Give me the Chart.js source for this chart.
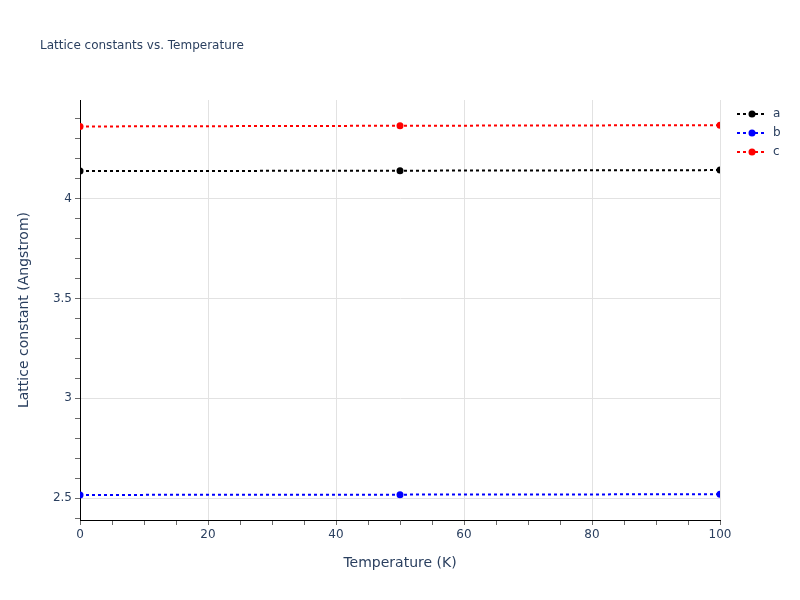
<!DOCTYPE html>
<html>
<head>
<meta charset="utf-8">
<script src="https://cdn.jsdelivr.net/npm/chart.js@4.4.1/dist/chart.umd.min.js"></script>
<style>
  html, body { margin: 0; padding: 0; background: #fff; }
  canvas { display: block; }
</style>
</head>
<body>
<canvas id="chart" width="800" height="600"></canvas>
<script>
const temperatures = [0, 50, 100];
const aValues = [4.138, 4.140, 4.143];
const bValues = [2.5165, 2.518, 2.520];
const cValues = [4.3615, 4.365, 4.368];

const seriesNames = ['a', 'b', 'c'];
const seriesColors = ['#000000', '#0000ff', '#ff0000'];

const xMajorTicks = [0, 20, 40, 60, 80, 100];
const xMinorTicks = [0, 5, 10, 15, 20, 25, 30, 35, 40, 45, 50, 55, 60, 65, 70, 75, 80, 85, 90, 95, 100];
const yMajorTicks = [2.5, 3, 3.5, 4];
const yMinorTicks = [2.4, 2.5, 2.6, 2.7, 2.8, 2.9, 3, 3.1, 3.2, 3.3, 3.4, 3.5, 3.6, 3.7, 3.8, 3.9, 4, 4.1, 4.2, 4.3, 4.4];

const chartTitle = 'Lattice constants vs. Temperature';
const xTitle = 'Temperature (K)';
const yTitle = 'Lattice constant (Angstrom)';

const fontFamily = '"DejaVu Sans", verdana, sans-serif';
const textColor = '#2a3f5f';
const gridColor = '#e2e2e2';
const tickMarkColor = '#6b6b6b';

const allValues = [aValues, bValues, cValues];

const datasets = allValues.map((vals, i) => ({
    label: seriesNames[i],
    data: temperatures.map((t, j) => ({ x: t, y: vals[j] })),
    borderColor: seriesColors[i],
    backgroundColor: seriesColors[i],
    borderWidth: 2,
    borderDash: [3, 3],
    pointRadius: 3.5,
    pointBorderWidth: 0,
    pointHoverRadius: 3.5,
    tension: 0
}));

function isIn(list, v) {
    return list.some(m => Math.abs(m - v) < 1e-9);
}

// title, axis titles and legend drawn by hand to sit where plotly puts them
const decorations = {
    id: 'decorations',
    afterDraw(chart) {
        const ctx = chart.ctx;
        const area = chart.chartArea;
        ctx.save();
        ctx.fillStyle = textColor;

        ctx.font = '12px ' + fontFamily;
        ctx.textAlign = 'left';
        ctx.textBaseline = 'middle';
        ctx.fillText(chartTitle, 40, 46);

        ctx.font = '14px ' + fontFamily;
        ctx.textAlign = 'center';
        ctx.fillText(xTitle, (area.left + area.right) / 2, 563);

        ctx.save();
        ctx.translate(24, (area.top + area.bottom) / 2);
        ctx.rotate(-Math.PI / 2);
        ctx.fillText(yTitle, 0, 0);
        ctx.restore();

        seriesNames.forEach((name, i) => {
            const y = 114 + i * 19;
            ctx.strokeStyle = seriesColors[i];
            ctx.lineWidth = 2;
            ctx.setLineDash([3, 3]);
            ctx.beginPath();
            ctx.moveTo(737, y);
            ctx.lineTo(767, y);
            ctx.stroke();
            ctx.setLineDash([]);
            ctx.fillStyle = seriesColors[i];
            ctx.beginPath();
            ctx.arc(752, y, 3.5, 0, Math.PI * 2);
            ctx.fill();
            ctx.fillStyle = textColor;
            ctx.font = '12px ' + fontFamily;
            ctx.textAlign = 'left';
            ctx.fillText(name, 773, y);
        });
        ctx.restore();
    }
};

new Chart(document.getElementById('chart').getContext('2d'), {
    type: 'line',
    data: { datasets: datasets },
    options: {
        responsive: false,
        animation: false,
        devicePixelRatio: 1,
        layout: { padding: { top: 100, right: 80, left: 0, bottom: 0 } },
        plugins: {
            legend: { display: false },
            title: { display: false },
            tooltip: { enabled: false }
        },
        scales: {
            x: {
                type: 'linear',
                min: 0,
                max: 100,
                afterFit(scale) { scale.height = 80; },
                afterBuildTicks(scale) { scale.ticks = xMinorTicks.map(v => ({ value: v })); },
                ticks: {
                    autoSkip: false,
                    maxRotation: 0,
                    padding: 3,
                    color: textColor,
                    font: { family: fontFamily, size: 12 },
                    callback: v => isIn(xMajorTicks, v) ? String(v) : ''
                },
                grid: {
                    color: c => isIn(xMajorTicks, c.tick.value) ? gridColor : 'rgba(0,0,0,0)',
                    tickColor: tickMarkColor,
                    tickLength: 5,
                    lineWidth: 1
                },
                border: { color: '#000000', width: 1 }
            },
            y: {
                type: 'linear',
                min: 2.391,
                max: 4.494,
                afterFit(scale) { scale.width = 80; },
                afterBuildTicks(scale) { scale.ticks = yMinorTicks.map(v => ({ value: v })); },
                ticks: {
                    autoSkip: false,
                    padding: 3,
                    color: textColor,
                    font: { family: fontFamily, size: 12 },
                    callback: v => isIn(yMajorTicks, v) ? String(v) : ''
                },
                grid: {
                    color: c => isIn(yMajorTicks, c.tick.value) ? gridColor : 'rgba(0,0,0,0)',
                    tickColor: tickMarkColor,
                    tickLength: 5,
                    lineWidth: 1
                },
                border: { color: '#000000', width: 1 }
            }
        }
    },
    plugins: [decorations]
});
</script>
</body>
</html>
